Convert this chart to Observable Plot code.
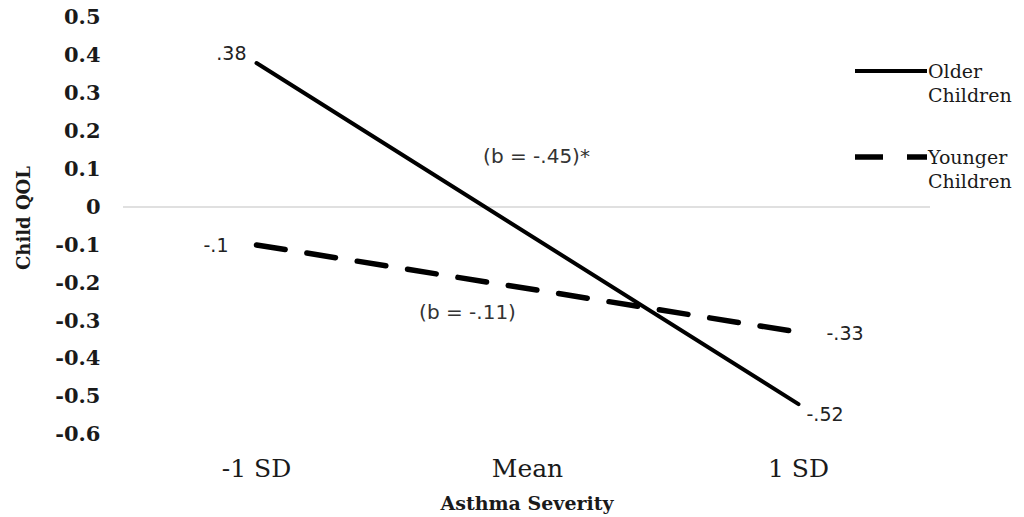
<!DOCTYPE html>
<html>
<head>
<meta charset="utf-8">
<script src="https://cdn.jsdelivr.net/npm/d3@7"></script>
<script src="https://cdn.jsdelivr.net/npm/@observablehq/plot@0.6"></script>
<style>
  html, body { margin: 0; padding: 0; background: #ffffff; }
  #chart { width: 1024px; height: 517px; }
</style>
</head>
<body>
<div id="chart"></div>
<script>
// ---- data ----
const xCats = ["-1 SD", "Mean", "1 SD"];
const lineX = ["-1 SD", "1 SD"];
const olderQOL = [0.38, -0.52];
const youngerQOL = [-0.10, -0.33];
const yTicks = [0.5, 0.4, 0.3, 0.2, 0.1, 0, -0.1, -0.2, -0.3, -0.4, -0.5, -0.6];
const seriesNames = ["Older Children", "Younger Children"];
const slopeLabels = ["(b = -.45)*", "(b = -.11)"];
const xTitle = "Asthma Severity";
const yTitle = "Child QOL";

// ---- tables ----
const older = lineX.map((x, i) => ({x, y: olderQOL[i]}));
const younger = lineX.map((x, i) => ({x, y: youngerQOL[i]}));
const valueText = d => String(d.y).replace("0.", ".");
const mid = arr => ({x: "Mean", y: (arr[0] + arr[arr.length - 1]) / 2});

const serif = "DejaVu Serif";
const sans = "DejaVu Sans";

const chart = Plot.plot({
  width: 1024,
  height: 517,
  marginLeft: 123,
  marginRight: 94,
  marginTop: 17,
  marginBottom: 83,
  style: {background: "#ffffff", overflow: "visible"},
  x: {type: "point", domain: xCats, padding: 0.487},
  y: {domain: [-0.6, 0.5]},
  marks: [
    Plot.ruleY([0], {stroke: "#d6d6d6", strokeWidth: 1.5}),
    Plot.axisY(yTicks, {
      tickSize: 0, tickPadding: 23, label: null,
      tickFormat: d => d === 0 ? "0" : d.toFixed(1),
      fontSize: 21, fontWeight: "bold", fontFamily: serif, fill: "#1a1a1a"
    }),
    Plot.axisX(xCats, {
      tickSize: 0, tickPadding: 25, label: null,
      fontSize: 25, fontFamily: serif, fill: "#1a1a1a"
    }),
    Plot.line(younger, {x: "x", y: "y", stroke: "#000", strokeWidth: 5.5, strokeDasharray: "29,22"}),
    Plot.line(older, {x: "x", y: "y", stroke: "#000", strokeWidth: 4}),
    // value labels
    Plot.text([older[0]], {x: "x", y: "y", text: valueText, textAnchor: "end", dx: -10, dy: -9,
      fontSize: 19, fontFamily: sans, fill: "#222"}),
    Plot.text([older[1]], {x: "x", y: "y", text: valueText, textAnchor: "start", dx: 8, dy: 11,
      fontSize: 19, fontFamily: sans, fill: "#222"}),
    Plot.text([younger[0]], {x: "x", y: "y", text: valueText, textAnchor: "end", dx: -28, dy: 1,
      fontSize: 19, fontFamily: sans, fill: "#222"}),
    Plot.text([younger[1]], {x: "x", y: "y", text: valueText, textAnchor: "start", dx: 28, dy: 2,
      fontSize: 19, fontFamily: sans, fill: "#222"}),
    // slope labels
    Plot.text([mid(olderQOL)], {x: "x", y: "y", text: () => slopeLabels[0], dx: 9, dy: -77,
      fontSize: 20, fontFamily: sans, fill: "#333"}),
    Plot.text([mid(youngerQOL)], {x: "x", y: "y", text: () => slopeLabels[1], dx: -60, dy: 24,
      fontSize: 20, fontFamily: sans, fill: "#333"}),
    // axis titles
    Plot.text([xTitle], {frameAnchor: "bottom", text: d => d, dy: 75,
      fontSize: 19, fontWeight: "bold", fontFamily: serif, fill: "#1a1a1a"}),
    Plot.text([yTitle], {frameAnchor: "left", text: d => d, rotate: -90, dx: -99, dy: 44,
      fontSize: 18, fontWeight: "bold", fontFamily: serif, fill: "#1a1a1a"})
  ]
});

document.getElementById("chart").appendChild(chart);

// ---- legend (drawn into the same svg, at the right) ----
const svg = d3.select(chart);
const lg = svg.append("g")
  .attr("font-family", serif).attr("font-size", 19).attr("fill", "#1a1a1a")
  .attr("text-anchor", "start");
const legendItems = [
  {name: seriesNames[0], dash: null, width: 4, y: 71},
  {name: seriesNames[1], dash: "28,24", width: 5.5, y: 157}
];
legendItems.forEach(it => {
  lg.append("line")
    .attr("x1", 855).attr("x2", 927).attr("y1", it.y).attr("y2", it.y)
    .attr("stroke", "#000").attr("stroke-width", it.width)
    .attr("stroke-dasharray", it.dash);
  const words = it.name.split(" ");
  lg.append("text").attr("x", 928).attr("y", it.y).attr("dy", "0.35em").text(words[0]);
  lg.append("text").attr("x", 928).attr("y", it.y + 24).attr("dy", "0.35em").text(words[1]);
});
</script>
</body>
</html>
